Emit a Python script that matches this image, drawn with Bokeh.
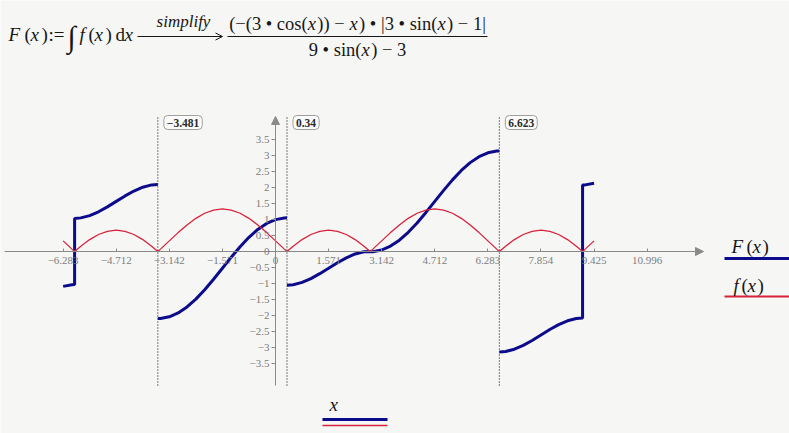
from bokeh.plotting import figure
from bokeh.models import Range1d, FixedTicker, LinearAxis, Label, Arrow, NormalHead, OpenHead
from bokeh.embed import file_html
from bokeh.resources import INLINE

# ---------------- data ----------------
# f(x) (red)
red_x = [-6.2832, -6.0214, -5.9434, -5.7596, -5.4978, -5.2360, -4.9742, -4.7124, -4.4506, -4.1888,
         -3.9270, -3.6652, -3.4814, -3.4034, -3.1416, -2.8798, -2.6180, -2.3562, -2.0944, -1.8326,
         -1.5708, -1.3090, -1.0472, -0.7854, -0.5236, -0.2618, 0.0, 0.2618, 0.3398, 0.5236,
         0.7854, 1.0472, 1.3090, 1.5708, 1.8326, 2.0944, 2.3562, 2.6180, 2.8018, 2.8798,
         3.1416, 3.4034, 3.6652, 3.9270, 4.1888, 4.4506, 4.7124, 4.9742, 5.2360, 5.4978,
         5.7596, 6.0214, 6.2832, 6.5450, 6.6230, 6.8068, 7.0686, 7.3304, 7.5922, 7.8540,
         8.1158, 8.3776, 8.6394, 8.9012, 9.0850, 9.1630, 9.4248]
red_y = [0.333, 0.075, 0.0, 0.167, 0.374, 0.533, 0.633, 0.667, 0.633, 0.533,
         0.374, 0.167, 0.0, 0.075, 0.333, 0.592, 0.833, 1.040, 1.199, 1.299,
         1.333, 1.299, 1.199, 1.040, 0.833, 0.592, 0.333, 0.075, 0.0, 0.167,
         0.374, 0.533, 0.633, 0.667, 0.633, 0.533, 0.374, 0.167, 0.0, 0.075,
         0.333, 0.592, 0.833, 1.040, 1.199, 1.299, 1.333, 1.299, 1.199, 1.040,
         0.833, 0.592, 0.333, 0.075, 0.0, 0.167, 0.374, 0.533, 0.633, 0.667,
         0.633, 0.533, 0.374, 0.167, 0.0, 0.075, 0.333]

# F(x) (blue), drawn in four pieces
blue_ab_x = [-6.2832, -6.0214, -5.9434, -5.9434, -5.7596, -5.4978, -5.2360, -4.9742, -4.7124,
             -4.4506, -4.1888, -3.9270, -3.6652, -3.4814]
blue_ab_y = [-1.094, -1.041, -1.038, 1.038, 1.054, 1.126, 1.245, 1.399, 1.571,
             1.742, 1.896, 2.016, 2.088, 2.103]
blue_c_x = [-3.4814, -3.4034, -3.1416, -2.8798, -2.6180, -2.3562, -2.0944, -1.8326, -1.5708,
            -1.3090, -1.0472, -0.7854, -0.5236, -0.2618, 0.0, 0.2618, 0.3398]
blue_c_y = [-2.103, -2.100, -2.047, -1.926, -1.739, -1.493, -1.198, -0.870, -0.524,
            -0.178, 0.151, 0.445, 0.692, 0.879, 1.000, 1.053, 1.056]
blue_d_x = [0.3398, 0.5236, 0.7854, 1.0472, 1.3090, 1.5708, 1.8326, 2.0944, 2.3562, 2.6180,
            2.8018, 2.8798, 3.1416, 3.4034, 3.6652, 3.9270, 4.1888, 4.4506, 4.7124, 4.9742,
            5.2360, 5.4978, 5.7596, 6.0214, 6.2832, 6.5450, 6.6230]
blue_d_y = [-1.056, -1.041, -0.969, -0.849, -0.695, -0.524, -0.352, -0.198, -0.078, -0.007,
            0.000, -0.006, 0.047, 0.169, 0.356, 0.602, 0.896, 1.225, 1.571, 1.917,
            2.245, 2.540, 2.786, 2.973, 3.094, 3.148, 3.151]
blue_ef_x = [6.6230, 6.8068, 7.0686, 7.3304, 7.5922, 7.8540, 8.1158, 8.3776, 8.6394, 8.9012,
             9.0850, 9.0850, 9.1630, 9.4248]
blue_ef_y = [-3.151, -3.135, -3.063, -2.944, -2.790, -2.618, -2.447, -2.293, -2.173, -2.101,
             -2.086, 2.086, 2.088, 2.142]

markers = [-3.481, 0.34, 6.623]
marker_text = ["\u22123.481", "0.34", "6.623"]

x_ticks = [-6.283, -4.712, -3.142, -1.571, 0, 1.571, 3.142, 4.712, 6.283, 7.854, 9.425, 10.996]
x_tick_labels = ["\u22126.283", "\u22124.712", "\u22123.142", "\u22121.571", "0", "1.571", "3.142",
                 "4.712", "6.283", "7.854", "9.425", "10.996"]
y_ticks = [-3.5, -3, -2.5, -2, -1.5, -1, -0.5, 0, 0.5, 1, 1.5, 2, 2.5, 3, 3.5]
y_tick_labels = ["\u22123.5", "\u22123", "\u22122.5", "\u22122", "\u22121.5", "\u22121", "\u22120.5",
                 "0", "0.5", "1", "1.5", "2", "2.5", "3", "3.5"]

# ---------------- layout helpers ----------------
W, H = 789, 433
OX, OY, SX, SY = 275.0, 251.0, 33.8, 31.9


def X(px):
    return (px - OX) / SX


def Y(py):
    return (OY - py) / SY


BG = "#f6f7f5"
AX = "#8a8a8a"
BLUE = "#0b0b8c"
RED = "#d8213a"
INK = "#161616"
SERIF = "Liberation Serif"

p = figure(width=W, height=H, x_range=Range1d(X(0), X(W)), y_range=Range1d(Y(H), Y(0)),
           x_axis_type=None, y_axis_type=None,
           output_backend="svg", toolbar_location=None, min_border=0)
p.outline_line_color = None
p.background_fill_color = BG
p.border_fill_color = BG

xa = LinearAxis(fixed_location=0, bounds=(X(4), X(697)), ticker=FixedTicker(ticks=x_ticks),
                major_label_overrides={t: l for t, l in zip(x_ticks, x_tick_labels)},
                axis_line_color=AX, major_tick_line_color=AX, minor_tick_line_color=None,
                major_tick_in=3, major_tick_out=0, major_label_standoff=5,
                major_label_text_font=SERIF, major_label_text_font_size="11px",
                major_label_text_color="#7d7d7d")
p.add_layout(xa, "below")
ya = LinearAxis(fixed_location=0, bounds=(Y(385), Y(122)), ticker=FixedTicker(ticks=y_ticks),
                major_label_overrides={t: l for t, l in zip(y_ticks, y_tick_labels)},
                axis_line_color=AX, major_tick_line_color=AX, minor_tick_line_color=None,
                major_tick_in=0, major_tick_out=4, major_label_standoff=2,
                major_label_text_font=SERIF, major_label_text_font_size="11px",
                major_label_text_color="#7d7d7d")
p.add_layout(ya, "left")

p.add_layout(Arrow(x_start=X(692), y_start=0, x_end=X(703), y_end=0, line_color=AX,
                   end=NormalHead(size=8, fill_color=AX, line_color=AX)))
p.add_layout(Arrow(x_start=0, y_start=Y(127), x_end=0, y_end=Y(116), line_color=AX,
                   end=NormalHead(size=8, fill_color=AX, line_color=AX)))

# marker (dotted) lines
p.segment(x0=markers, y0=[Y(385)] * len(markers), x1=markers, y1=[Y(116)] * len(markers),
          line_color="#000000", line_width=1, line_dash="1 2")
for m, t in zip(markers, marker_text):
    p.add_layout(Label(x=m, y=Y(122), x_offset=6, text=t, text_font=SERIF,
                       text_font_style="bold", text_font_size="11.5px", text_color="#2a2a2a",
                       text_baseline="middle", text_align="left",
                       border_line_color="#a0a0a0", border_line_width=1, border_radius=4,
                       background_fill_color="#fbfbfa", padding=3))

# curves
for xs, ys in [(blue_ab_x, blue_ab_y), (blue_c_x, blue_c_y), (blue_d_x, blue_d_y),
               (blue_ef_x, blue_ef_y)]:
    p.line(xs, ys, line_color=BLUE, line_width=3)
p.line(red_x, red_y, line_color=RED, line_width=1.3)


# ---------------- texts (y = visual middle) ----------------
def txt(px, py, s, size=19, italic=False, align="left", color=INK):
    p.add_layout(Label(x=X(px), y=Y(py), text=s, text_font=SERIF,
                       text_font_size=f"{size}px",
                       text_font_style="italic" if italic else "normal",
                       text_align=align, text_baseline="middle", text_color=color))


W_UP = {' ': 0.25, '(': 0.333, ')': 0.333, '\u2212': 0.564, '3': 0.5, '1': 0.5, '9': 0.5,
        '\u2022': 0.35, 'c': 0.444, 'o': 0.5, 's': 0.389, 'i': 0.278, 'n': 0.5, '|': 0.2}
W_IT = {'x': 0.444}


def place(pieces, cx, py, size):
    ws = []
    for s, it in pieces:
        tab = W_IT if it else W_UP
        ws.append(sum(tab[c] for c in s) * size + (0.08 * size if it else 0))
    x = cx - sum(ws) / 2
    for (s, it), w in zip(pieces, ws):
        txt(x, py, s, size, italic=it)
        x += w


# left-hand side
ROW = 34
txt(8, ROW, "F", 19, True)
txt(24, ROW, "(")
txt(30, ROW, "x", 19, True)
txt(41, ROW, ")")
txt(48, ROW, ":=")
txt(67, 36, "\u222b", 30)
txt(79, ROW, "f", 19, True)
txt(88, ROW, "(")
txt(94, ROW, "x", 19, True)
txt(105, ROW, ")")
txt(115, ROW, "d")
txt(124, ROW, "x", 19, True)

# simplify arrow
txt(183, 21, "simplify", 17, True, align="center")
p.add_layout(Arrow(x_start=X(137), y_start=Y(36), x_end=X(222), y_end=Y(36), line_color=INK,
                   line_width=1, end=OpenHead(size=7, line_color=INK, line_width=1)))

# fraction
place([("(\u2212(3 \u2022 cos(", False), ("x", True), (")) \u2212 ", False), ("x", True),
       (") \u2022 |3 \u2022 sin(", False), ("x", True), (") \u2212 1|", False)], 357, 23, 18.5)
p.line([X(227), X(487)], [Y(36), Y(36)], line_color=INK, line_width=1)
place([("9 \u2022 sin(", False), ("x", True), (") \u2212 3", False)], 357, 49, 18.5)

# legend (right)
txt(731, 246, "F", 19, True)
txt(746, 246, "(")
txt(752, 246, "x", 19, True)
txt(762, 246, ")")
p.line([X(724), X(789)], [Y(258), Y(258)], line_color=BLUE, line_width=3)
txt(733, 285, "f", 19, True)
txt(741, 285, "(")
txt(747, 285, "x", 19, True)
txt(757, 285, ")")
p.line([X(724), X(789)], [Y(296), Y(296)], line_color=RED, line_width=2)

# x label (bottom)
txt(329, 404, "x", 19, True)
p.line([X(322), X(387)], [Y(419), Y(419)], line_color=BLUE, line_width=3)
p.line([X(322), X(387)], [Y(425), Y(425)], line_color=RED, line_width=1.5)

open("out.html", "w").write(file_html(p, INLINE, title="F(x)"))
